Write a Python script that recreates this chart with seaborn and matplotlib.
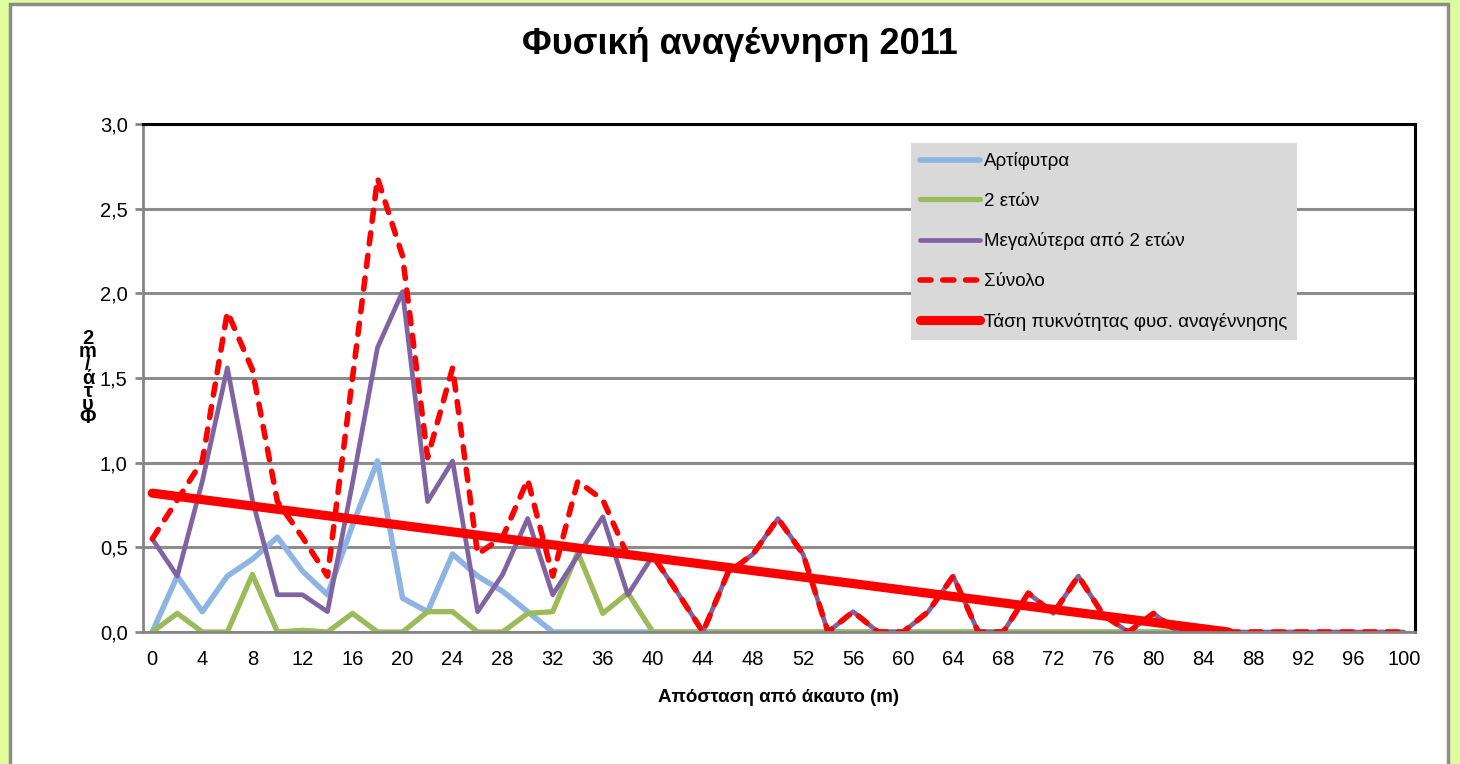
import matplotlib
matplotlib.use("Agg")
import matplotlib.pyplot as plt
import seaborn as sns
import pandas as pd
from matplotlib.patches import Rectangle

# distance from the unburnt edge, one reading every 2 m
distance = list(range(0, 101, 2))

# values (plants / m2)
seedlings = [0.0, 0.33, 0.12, 0.33, 0.43, 0.56, 0.36, 0.22, 0.63, 1.01,
             0.20, 0.12, 0.46, 0.33, 0.24, 0.12] + [0.0] * 26          # 0..82
two_years = [0.0, 0.11, 0.0, 0.0, 0.34, 0.0, 0.01, 0.0, 0.11, 0.0,
             0.0, 0.12, 0.12, 0.0, 0.0, 0.11, 0.12, 0.47, 0.11, 0.23,
             0.0] + [0.0] * 21                                          # 0..82
older = [0.55, 0.33, 0.89, 1.56, 0.78, 0.22, 0.22, 0.12, 0.88, 1.68,
         2.01, 0.77, 1.01, 0.12, 0.34, 0.67, 0.22, 0.45, 0.68, 0.22,
         0.45, 0.23, 0.0, 0.35, 0.46, 0.67, 0.46, 0.0, 0.12, 0.0,
         0.0, 0.12, 0.33, 0.0, 0.0, 0.23, 0.11, 0.33, 0.10, 0.0,
         0.11, 0.0] + [0.0] * 9                                         # 0..100
total = [0.55, 0.78, 1.01, 1.89, 1.55, 0.77, 0.56, 0.33, 1.50, 2.68,
         2.22, 1.03, 1.56, 0.46, 0.56, 0.90, 0.33, 0.89, 0.78, 0.45,
         0.45, 0.23, 0.0, 0.35, 0.46, 0.67, 0.46, 0.0, 0.12, 0.0,
         0.0, 0.12, 0.33, 0.0, 0.0, 0.23, 0.11, 0.33, 0.10, 0.0,
         0.11, 0.0] + [0.0] * 9
trend_x = [0, 86]
trend_y = [0.82, 0.0]

x_ticks = list(range(0, 101, 4))
y_ticks = [0.0, 0.5, 1.0, 1.5, 2.0, 2.5, 3.0]

labels = ["Αρτίφυτρα", "2 ετών", "Μεγαλύτερα από 2 ετών", "Σύνολο",
          "Τάση πυκνότητας φυσ. αναγέννησης"]

plt.rcParams['font.family'] = ['Liberation Sans', 'DejaVu Sans']

W, H = 1460, 764
fig = plt.figure(figsize=(W / 100, H / 100), dpi=100, facecolor='#DFFC9E')
fig.patches.append(Rectangle((10 / W, -0.02), (1448 - 10) / W, 1 - 4 / H + 0.02,
                             transform=fig.transFigure, facecolor='white',
                             edgecolor='#8C8C8C', linewidth=2.5, zorder=-5))

ax = fig.add_axes([143 / W, 1 - 632 / H, (1415 - 143) / W, (632 - 124) / H])

n = len(seedlings)
common = dict(ax=ax, solid_joinstyle='round', solid_capstyle='round')
sns.lineplot(x=distance[:n], y=seedlings, color='#8EB4E3', linewidth=4.0,
             label=labels[0], **common)
sns.lineplot(x=distance[:n], y=two_years, color='#9BBB59', linewidth=3.8,
             label=labels[1], **common)
sns.lineplot(x=distance, y=older, color='#8064A2', linewidth=3.4,
             label=labels[2], **common)
sns.lineplot(x=distance, y=total, color='#FF0000', linewidth=4.0,
             linestyle=(0, (2.0, 2.1)), dash_capstyle='round',
             label=labels[3], ax=ax)
sns.lineplot(x=trend_x, y=trend_y, color='#FF0000', linewidth=6.6,
             label=labels[4], **common)

ax.set_xlim(-0.74, 100.9)
ax.set_ylim(0, 3.0)
ax.set_xticks(x_ticks)
ax.set_xticklabels([str(v) for v in x_ticks])
ax.set_yticks(y_ticks)
ax.set_yticklabels([f"{v:.1f}".replace('.', ',') for v in y_ticks])
ax.tick_params(axis='x', length=0, pad=13, labelsize=14.5)
ax.tick_params(axis='y', length=6, width=2, color='#868686', pad=5, labelsize=14.5)

ax.set_axisbelow(True)
ax.yaxis.grid(True, color='#8C8C8C', linewidth=2.2)
ax.xaxis.grid(False)
ax.set_facecolor('white')
for side in ['left', 'bottom']:
    ax.spines[side].set_color('#868686')
    ax.spines[side].set_linewidth(2)
for side in ['top', 'right']:
    ax.spines[side].set_color('black')
    ax.spines[side].set_linewidth(2.2)

ax.set_xlabel("Απόσταση από άκαυτο (m)", fontsize=13.5, fontweight='bold')
ax.xaxis.set_label_coords(0.5, (632 - 697) / 508)
ax.xaxis.label.set_verticalalignment('center')

ax.set_ylabel("\n".join(reversed("Φυτά/m2")), rotation=0, fontsize=14.5,
              fontweight='bold', linespacing=0.62, ha='center', va='center')
ax.yaxis.set_label_coords((88 - 143) / 1272, 0.5)

handles, labs = ax.get_legend_handles_labels()
leg = ax.legend(handles, labs, loc='upper left',
                bbox_to_anchor=(911 / W, 1 - 143 / H), bbox_transform=fig.transFigure,
                frameon=True, fancybox=False, facecolor='#D9D9D9', edgecolor='none',
                framealpha=1, fontsize=13.5, handlelength=3.2, handletextpad=0.2,
                labelspacing=1.2, borderpad=0.5, borderaxespad=0)

fig.text(740 / W, 1 - 45 / H, "Φυσική αναγέννηση 2011", ha='center', va='center',
         fontsize=26, fontweight='bold')

fig.savefig("out.png", dpi=100, facecolor=fig.get_facecolor())
